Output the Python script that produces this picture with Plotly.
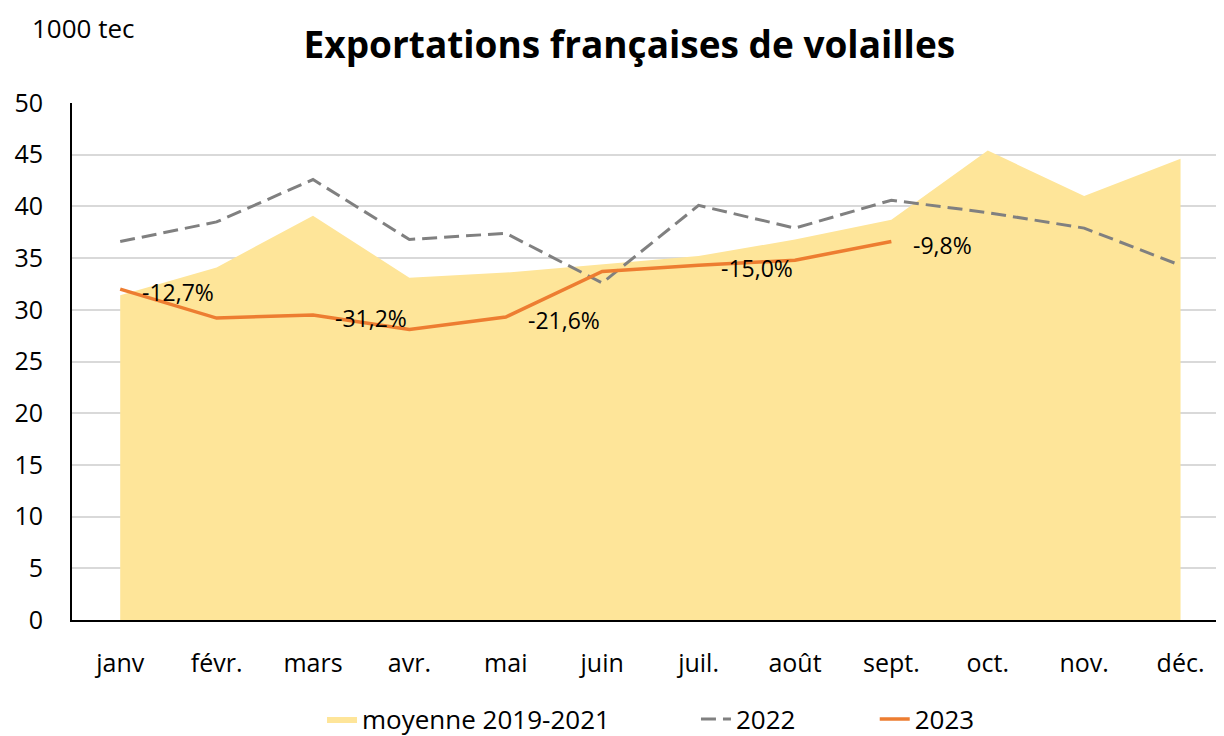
import plotly.graph_objects as go

months = ["janv", "févr.", "mars", "avr.", "mai", "juin", "juil.", "août", "sept.", "oct.", "nov.", "déc."]
moyenne = [31.4, 34.1, 39.1, 33.1, 33.6, 34.4, 35.2, 36.8, 38.7, 45.4, 41.0, 44.6]
y2022 = [36.6, 38.5, 42.6, 36.8, 37.4, 32.6, 40.1, 37.9, 40.6, 39.4, 37.9, 34.3]
y2023 = [32.0, 29.2, 29.5, 28.1, 29.3, 33.7, 34.3, 34.8, 36.6]
label_months = ["janv", "mars", "mai", "juil.", "sept."]
label_texts = ["-12,7%", "-31,2%", "-21,6%", "-15,0%", "-9,8%"]
series_names = ["moyenne 2019-2021", "2022", "2023"]

FONT = "'Open Sans', sans-serif"
PAD1 = "\u00a0" * 12
PAD2 = "\u00a0" * 11

fig = go.Figure()
fig.add_trace(go.Scatter(x=months, y=moyenne, mode="lines", fill="tozeroy",
                         fillcolor="#FEE599", line=dict(width=0, color="#FEE599"),
                         name=series_names[0] + PAD1))
fig.add_trace(go.Scatter(x=months, y=y2022, mode="lines",
                         line=dict(color="#808080", width=3, dash="15px,7px"),
                         name=series_names[1] + PAD2))
fig.add_trace(go.Scatter(x=months[:len(y2023)], y=y2023, mode="lines",
                         line=dict(color="#ED7D31", width=3.5),
                         name=series_names[2]))

for m, t in zip(label_months, label_texts):
    v = y2023[months.index(m)]
    fig.add_annotation(x=m, y=v, text=t, showarrow=False, xanchor="left",
                       yanchor="middle", xshift=20, yshift=-3,
                       font=dict(size=23, color="black", family=FONT))

fig.add_annotation(x=-0.0365, y=1.183, xref="paper", yref="paper", xanchor="left", yanchor="top",
                   showarrow=False, text="1000 tec", font=dict(size=26, color="black", family=FONT))

fig.update_layout(
    width=1216, height=728,
    paper_bgcolor="white", plot_bgcolor="white",
    margin=dict(l=64, r=2, t=95, b=116, autoexpand=False),
    title=dict(text="<b>Exportations françaises de volailles</b>", x=0.511, xanchor="center",
               y=0.949, yanchor="middle", font=dict(size=37, color="black", family=FONT)),
    font=dict(family=FONT, size=25, color="black"),
    xaxis=dict(type="category", categoryorder="array", categoryarray=months,
               range=[-0.5, 11.43], showline=True, linecolor="black", linewidth=2,
               showgrid=False, ticks="", tickfont=dict(size=25), ticklabelstandoff=20,
               automargin=False),
    yaxis=dict(range=[0, 50], dtick=5, showline=True, linecolor="black", linewidth=2,
               gridcolor="#D9D9D9", gridwidth=2, zeroline=False, ticks="",
               tickfont=dict(size=25), ticklabelstandoff=22, automargin=False),
    legend=dict(orientation="h", x=0.5035, xanchor="center", y=-0.1915, yanchor="middle",
                font=dict(size=26), traceorder="normal"),
    showlegend=True,
)

fig.write_html("out.html")
